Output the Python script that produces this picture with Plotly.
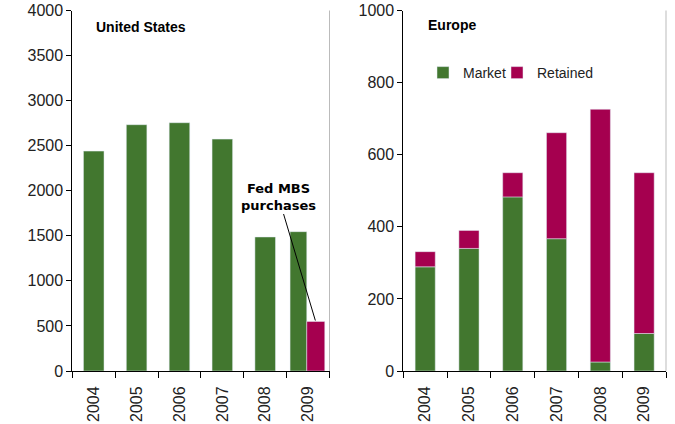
import plotly.graph_objects as go

years = ["2004", "2005", "2006", "2007", "2008", "2009"]
us_values = [2440, 2733, 2755, 2573, 1487, 1546]
fed_year = ["2009"]
fed_mbs = [550]
eu_market = [289, 340, 483, 367, 25, 104]
eu_retained = [42, 50, 67, 294, 701, 446]

GREEN = "#42772F"
MAGENTA = "#A5004F"
FONT = "Liberation Sans, Arial, sans-serif"

W, H = 675, 424


def px(x):
    return x / W


def py(y):
    return 1 - y / H


fig = go.Figure()

us_width = [0.48, 0.48, 0.48, 0.48, 0.48, 0.39]
us_offset = [-0.24, -0.24, -0.24, -0.24, -0.24, -0.42]
fig.add_trace(go.Bar(x=years, y=us_values, marker_color=GREEN, width=us_width, offset=us_offset,
                     xaxis="x", yaxis="y", showlegend=False, name="US"))
fig.add_trace(go.Bar(x=fed_year, y=fed_mbs, marker_color=MAGENTA, width=[0.42], offset=[-0.03],
                     xaxis="x", yaxis="y", showlegend=False, name="Fed MBS purchases"))

fig.add_trace(go.Bar(x=years, y=eu_market, marker_color=GREEN, width=0.46, offset=-0.23, name="Market",
                     xaxis="x2", yaxis="y2", legend="legend"))
fig.add_trace(go.Bar(x=years, y=eu_retained, base=eu_market, marker_color=MAGENTA, width=0.46,
                     offset=-0.23, name="Retained", xaxis="x2", yaxis="y2", legend="legend2"))

ydom = [py(371), py(10.5)]
axis_common = dict(showline=True, linecolor="black", linewidth=1, ticks="outside",
                   tickcolor="black", showgrid=False, zeroline=False, automargin=False,
                   ticklabeloverflow="allow",
                   tickfont=dict(family=FONT, size=16, color="#222"))
xaxis_common = dict(tickson="boundaries", tickangle=-90, ticklen=6, ticklabelstandoff=8, **axis_common)
legend_common = dict(orientation="h", yanchor="middle", xanchor="left", y=py(73),
                     font=dict(family=FONT, size=14, color="#222"), itemwidth=30,
                     bgcolor="rgba(0,0,0,0)")

fig.update_layout(
    width=W, height=H,
    margin=dict(l=0, r=0, t=0, b=0),
    paper_bgcolor="white", plot_bgcolor="white",
    barmode="overlay",
    font=dict(family=FONT),
    xaxis=dict(domain=[px(72.3), px(329.5)], anchor="y", **xaxis_common),
    yaxis=dict(domain=ydom, anchor="x", range=[0, 4000], dtick=500, ticklen=5, **axis_common),
    xaxis2=dict(domain=[px(403.3), px(666)], anchor="y2", **xaxis_common),
    yaxis2=dict(domain=ydom, anchor="x2", range=[0, 1000], dtick=200, ticklen=5, **axis_common),
    legend=dict(x=px(423), **legend_common),
    legend2=dict(x=px(497), **legend_common),
    shapes=[
        dict(type="line", xref="paper", yref="paper", x0=px(329.5), x1=px(329.5),
             y0=ydom[0], y1=ydom[1], line=dict(color="#bbbbbb", width=1)),
        dict(type="line", xref="paper", yref="paper", x0=px(666), x1=px(666),
             y0=ydom[0], y1=ydom[1], line=dict(color="#bbbbbb", width=1)),
    ],
    annotations=[
        dict(text="<b>United States</b>", xref="paper", yref="paper", x=px(94), y=py(27),
             xanchor="left", yanchor="middle", showarrow=False,
             font=dict(family=FONT, size=14, color="black")),
        dict(text="<b>Europe</b>", xref="paper", yref="paper", x=px(426), y=py(25),
             xanchor="left", yanchor="middle", showarrow=False,
             font=dict(family=FONT, size=14, color="black")),
        dict(text="<b>Fed MBS<br>purchases</b>", xref="x", yref="y", x=5.17, y=560,
             showarrow=True, arrowhead=0, arrowwidth=1, arrowcolor="black",
             ax=-37, ay=-124, align="center",
             font=dict(family="DejaVu Sans", size=13, color="black")),
    ],
)

fig.write_html("out.html", config={"displayModeBar": False},
               post_script="document.body.style.margin='0';")
